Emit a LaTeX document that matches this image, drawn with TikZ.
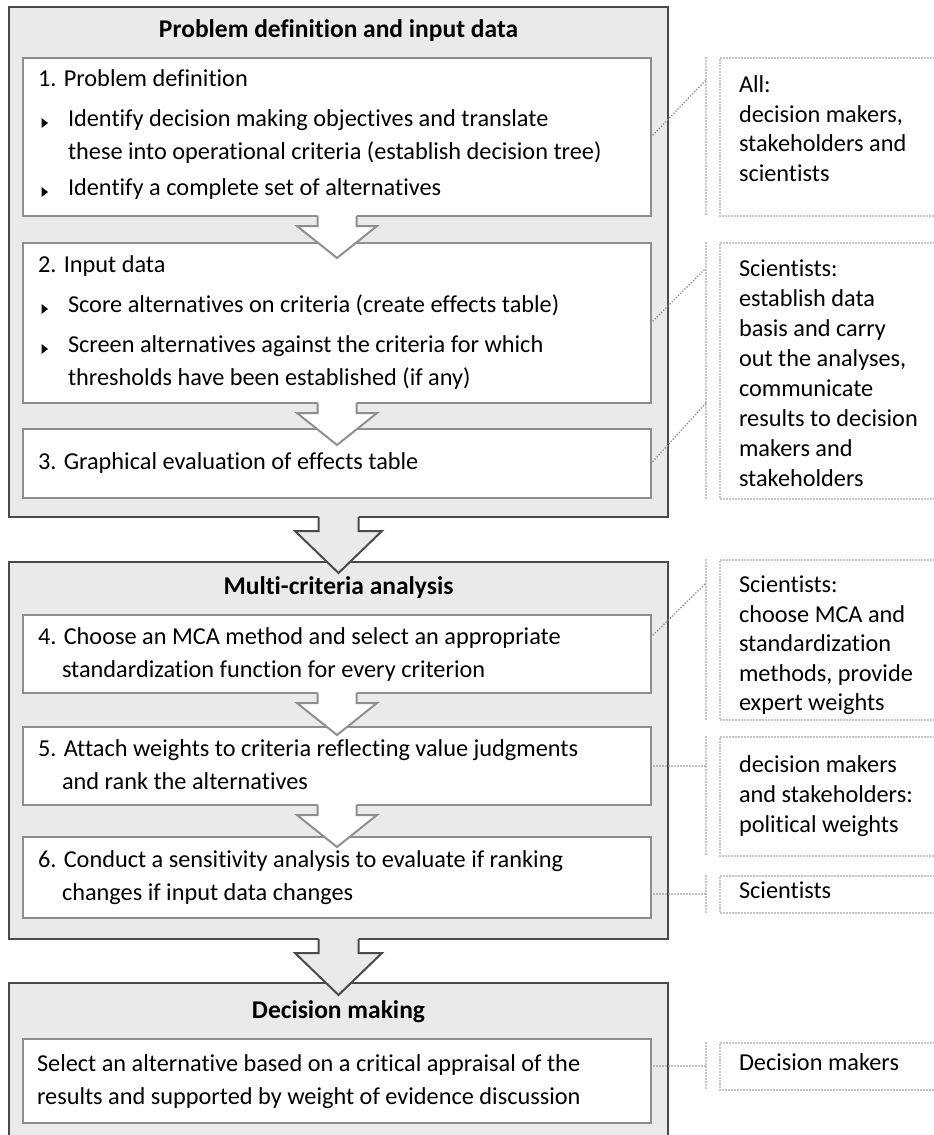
\documentclass[tikz,border=0pt]{standalone}
\usepackage{fontspec}
\setmainfont{Carlito}[Ligatures=NoCommon]
\usetikzlibrary{calc}
\definecolor{panel}{HTML}{EAEAEA}
\definecolor{darkedge}{HTML}{4A4A4A}
\definecolor{midedge}{HTML}{8E8E8E}
\definecolor{dotgray}{HTML}{8A8A8A}

% block arrow hanging below node #2:
% #1 style, #3 half shaft width, #4 half head width, #5 shaft length, #6 head length
\newcommand\flowarrow[6]{%
  \fill[#1, draw=none]
    ($(#2.south)+(-#3,-1.5)$) -- ($(#2.south)+(-#3,#5)$) -- ($(#2.south)+(-#4,#5)$)
    -- ($(#2.south)+(0,#5+#6)$) -- ($(#2.south)+(#4,#5)$) -- ($(#2.south)+(#3,#5)$)
    -- ($(#2.south)+(#3,-1.5)$) -- cycle;
  \draw[#1, fill=none]
    ($(#2.south)+(-#3,0)$) -- ($(#2.south)+(-#3,#5)$) -- ($(#2.south)+(-#4,#5)$)
    -- ($(#2.south)+(0,#5+#6)$) -- ($(#2.south)+(#4,#5)$) -- ($(#2.south)+(#3,#5)$)
    -- ($(#2.south)+(#3,0)$);
}
% small bullet triangle at height #1
\newcommand\bul[1]{\fill (41.5,#1-5) -- (48,#1) -- (41.5,#1+5) -- cycle;}

\begin{document}
\begin{tikzpicture}[x=1pt, y=-1pt,
  every node/.style={inner sep=0pt, outer sep=0pt},
  txt/.style={anchor=mid west, font=\fontsize{24.3}{29}\selectfont},
  head/.style={anchor=mid, font=\fontsize{25.5}{30}\selectfont\bfseries},
  stage/.style={draw=darkedge, line width=2.2pt, fill=panel, anchor=north west,
                minimum width=659pt},
  taskbox/.style={draw=midedge, line width=2.4pt, fill=white, anchor=north west,
                  minimum width=628pt},
  smallarrow/.style={fill=white, draw=midedge, line width=2pt, line join=miter},
  bigarrow/.style={fill=panel, draw=darkedge, line width=2pt, line join=miter},
  dots/.style={draw=dotgray, line width=1.8pt, line cap=round, dash pattern=on 0pt off 3pt},
]
\useasboundingbox (0,0) rectangle (934,1135);
\clip (0,0) rectangle (934,1135);

% ---------- stage panels ----------
\node[stage, minimum height=510pt] (s1) at (9,7) {};
\node[stage, minimum height=377pt] (s2) at (9,562) {};
\node[stage, minimum height=170pt] (s3) at (9,983) {};

\node[head] (h1) at (338.5,35) {Problem definition and input data};
\node[head] (h2) at (338.5,592) {Multi-criteria analysis};
\node[head] (h3) at (338.5,1016) {Decision making};

% ---------- task boxes ----------
\node[taskbox, minimum height=158pt] (in1) at (23,58) {};
\node[taskbox, minimum height=160pt] (in2) at (23,243) {};
\node[taskbox, minimum height=69pt]  (in3) at (23,429) {};
\node[taskbox, minimum height=78pt]  (in4) at (23,615) {};
\node[taskbox, minimum height=78pt]  (in5) at (23,727) {};
\node[taskbox, minimum height=81pt]  (in6) at (23,837) {};
\node[taskbox, minimum height=84pt]  (in7) at (23,1039) {};

% box 1
\node[txt] (t1a) at (38,84) {1. Problem definition};
\bul{123}
\node[txt] (t1b) at (68,124) {Identify decision making objectives and translate};
\node[txt] (t1c) at (68,157) {these into operational criteria (establish decision tree)};
\bul{192}
\node[txt] (t1d) at (68,193) {Identify a complete set of alternatives};
% box 2
\node[txt] (t2a) at (38,270) {2. Input data};
\bul{309}
\node[txt] (t2b) at (68,310) {Score alternatives on criteria (create effects table)};
\bul{349}
\node[txt] (t2c) at (68,350) {Screen alternatives against the criteria for which};
\node[txt] (t2d) at (68,383) {thresholds have been established (if any)};
% box 3
\node[txt] (t3a) at (38,467) {3. Graphical evaluation of effects table};
% box 4
\node[txt] (t4a) at (38,642) {4. Choose an MCA method and select an appropriate};
\node[txt] (t4b) at (62,675) {standardization function for every criterion};
% box 5
\node[txt] (t5a) at (38,754) {5. Attach weights to criteria reflecting value judgments};
\node[txt] (t5b) at (62,787) {and rank the alternatives};
% box 6
\node[txt] (t6a) at (38,865) {6. Conduct a sensitivity analysis to evaluate if ranking};
\node[txt] (t6b) at (62,898) {changes if input data changes};
% box 7
\node[txt] (t7a) at (37,1069) {Select an alternative based on a critical appraisal of the};
\node[txt] (t7b) at (37,1102) {results and supported by weight of evidence discussion};

% ---------- block arrows ----------
\flowarrow{smallarrow}{in1}{19.5}{40}{10}{32}
\flowarrow{smallarrow}{in2}{19.5}{40}{10}{32}
\flowarrow{smallarrow}{in4}{19.5}{40}{10}{32}
\flowarrow{smallarrow}{in5}{19.5}{40}{10}{32}
\flowarrow{bigarrow}{s1}{20}{43.5}{14}{42}
\flowarrow{bigarrow}{s2}{20}{43.5}{14}{42}

% ---------- responsibility notes ----------
% group frames: a dotted bar plus an open dotted box
\coordinate (g1t) at (706,58);   \coordinate (g1b) at (706,216);
\coordinate (g2t) at (706,243);  \coordinate (g2b) at (706,499);
\coordinate (g3t) at (706,560);  \coordinate (g3b) at (706,720);
\coordinate (g4t) at (706,737);  \coordinate (g4b) at (706,856);
\coordinate (g5t) at (706,876);  \coordinate (g5b) at (706,913);
\coordinate (g7t) at (706,1043); \coordinate (g7b) at (706,1090);
\foreach \g in {g1,g2,g3,g4,g5,g7}{
  \draw[dots] (\g t) -- (\g b);
  \draw[dots] ($(\g t)+(240,0)$) -- ($(\g t)+(14,0)$) -- ($(\g b)+(14,0)$) -- ($(\g b)+(240,0)$);
}

% leader lines from task boxes to the frames
\coordinate (k1) at (706,80);
\coordinate (k2) at (706,268);
\coordinate (k3) at (706,403);
\coordinate (k4) at (706,583);
\coordinate (k5) at (706,766);
\coordinate (k6) at (706,894);
\coordinate (k7) at (706,1066);
\draw[dots] (in1.east) -- (k1);
\draw[dots] (in2.east) -- (k2);
\draw[dots] (in3.east) -- (k3);
\draw[dots] ($(in4.east)+(0,-17)$) -- (k4);
\draw[dots] (in5.east |- k5) -- (k5);
\draw[dots] (in6.east |- k6) -- (k6);
\draw[dots] (in7.east |- k7) -- (k7);

% note texts
\foreach \t [count=\i] in {All:, {decision makers,}, stakeholders and, scientists}
  \node[txt] (n1l\i) at (739, 61+29.5*\i) {\t};
\foreach \t [count=\i] in {Scientists:, establish data, basis and carry, {out the analyses,},
    communicate, results to decision, makers and, stakeholders}
  \node[txt] (n2l\i) at (739, 244+30*\i) {\t};
\foreach \t [count=\i] in {Scientists:, choose MCA and, standardization, {methods, provide},
    expert weights}
  \node[txt] (n3l\i) at (739, 560.5+29.6*\i) {\t};
\foreach \t [count=\i] in {decision makers, and stakeholders:, political weights}
  \node[txt] (n4l\i) at (739, 740+30*\i) {\t};
\node[txt] (n5l1) at (739,896) {Scientists};
\node[txt] (n7l1) at (739,1068) {Decision makers};

\end{tikzpicture}
\end{document}
